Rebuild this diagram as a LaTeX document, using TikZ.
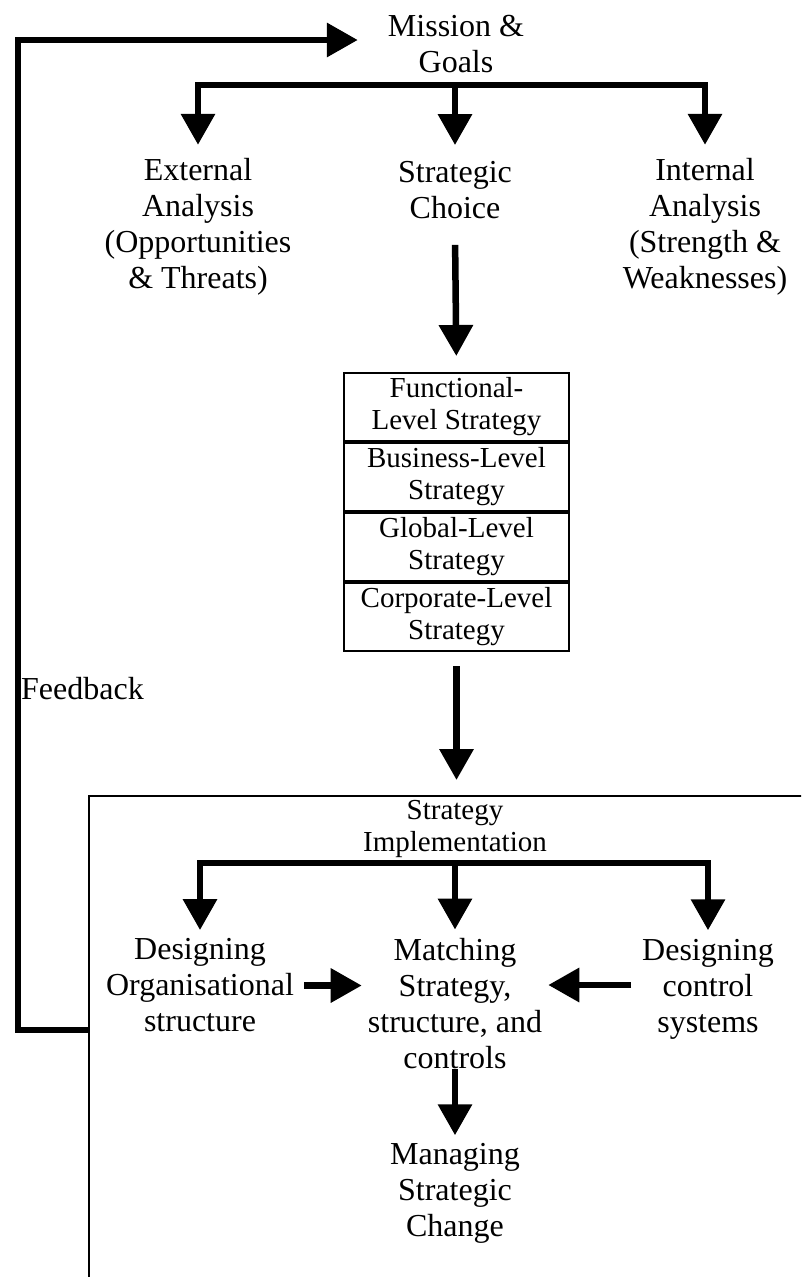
\documentclass[tikz,border=0pt]{standalone}
\usepackage{fontspec}
\setmainfont{Liberation Serif}
\usetikzlibrary{arrows.meta,positioning}
\begin{document}
\begin{tikzpicture}[x=1pt,y=-1pt,
  big/.style={font=\fontsize{32}{36}\selectfont, align=center, inner sep=0pt},
  small/.style={font=\fontsize{29}{32}\selectfont, align=center, inner sep=0pt},
  arr/.style={line width=6.5pt, line join=miter, -{Triangle[length=31pt,width=33pt]}},
  level/.style={small, draw, line width=2pt, minimum width=225pt, minimum height=68pt}]
\useasboundingbox (0,0) rectangle (801,1277);
\clip (0,0) rectangle (801,1277);

% top part
\node[big, inner xsep=30pt] (mission) at (456,44) {Mission \&\\Goals};
\node[big, inner ysep=13.5pt] (ext) at (198,227) {External\\Analysis\\(Opportunities\\\& Threats)};
\node[big, inner ysep=16pt] (choice) at (455,190) {Strategic\\Choice};
\node[big, inner ysep=13.5pt] (int) at (705,227) {Internal\\Analysis\\(Strength \&\\Weaknesses)};

\coordinate (bar) at (455,85);
\draw[arr] (bar) -| (ext.north);
\draw[arr] (bar) -| (int.north);
\draw[arr] (bar) -- (choice.north);

% strategy levels
\node[level] (l1) at (456.5,407) {Functional-\\Level Strategy};
\node[level, below=0pt of l1] (l2) {Business-Level\\Strategy};
\node[level, below=0pt of l2] (l3) {Global-Level\\Strategy};
\node[level, below=0pt of l3] (l4) {Corporate-Level\\Strategy};

\draw[arr, shorten <=10pt, shorten >=16pt] (choice.south) -- (l1.north);

% implementation frame
\node[draw, line width=2pt, minimum width=800pt, minimum height=600pt, anchor=north west, inner sep=0pt] (frame) at (88,795) {};
\draw[arr, shorten <=14pt, shorten >=15pt] (l4.south) -- (l4.south |- frame.north);

\node[small] (impl) at (455,829) {Strategy\\Implementation};

\node[big, inner xsep=10pt, inner ysep=8.5pt] (org) at (200,985.5) {Designing\\Organisational\\structure};
\node[big, inner xsep=6pt, inner ysep=8.5pt] (match) at (455,1003.5) {Matching\\Strategy,\\structure, and\\controls};
\node[big, inner xsep=11pt, inner ysep=8.5pt] (ctrl) at (708,989) {Designing\\control\\systems};
\node[big, inner ysep=7.5pt] (manage) at (455,1193) {Managing\\Strategic\\Change};

\coordinate (bar2) at (455,863);
\draw[arr] (bar2) -| (org.north);
\draw[arr] (bar2) -| (ctrl.north);
\draw[arr] (bar2) -- (match.north);

\draw[arr] (org.east) -- (org.east -| match.west);
\draw[arr] ([yshift=4pt]ctrl.west) -- ([yshift=4pt]ctrl.west -| match.east);
\draw[arr, shorten <=-8.5pt] (match.south) -- (manage.north);

% feedback loop
\node[big, anchor=west] (fbtext) at (21,689) {Feedback};
\coordinate (fb) at (18,1030);
\draw[arr] (frame.west |- fb) -- (fb) |- ([yshift=4pt]mission.west);
\end{tikzpicture}
\end{document}
